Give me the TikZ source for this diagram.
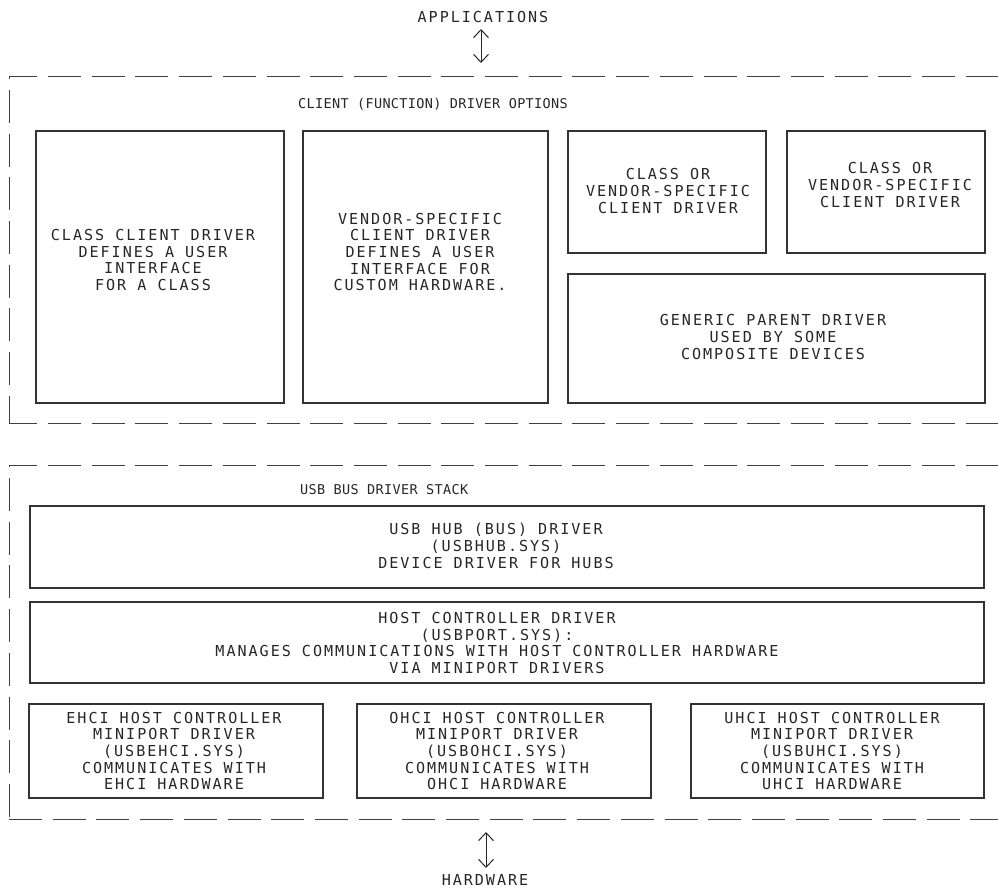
\documentclass[tikz,border=0pt]{standalone}
\usepackage{fontspec}
\newfontfamily\cadfont[LetterSpace=13]{DejaVu Sans Mono}
\newfontfamily\cadtitle[LetterSpace=2.5]{DejaVu Sans Mono}
\usetikzlibrary{arrows.meta}
\begin{document}
\begin{tikzpicture}[x=1pt,y=-1pt,
  box/.style={draw=black!80, line width=1.1pt, inner sep=0pt, outer sep=0pt, rectangle},
  txt/.style={font=\cadfont\fontsize{15.1}{16.7}\selectfont, text=black!85, align=center, inner sep=0pt},
  ttl/.style={font=\cadtitle\fontsize{13.5}{15}\selectfont, text=black!85, inner sep=0pt, anchor=west},
  frm/.style={draw=black!75, line width=1pt, dash pattern=on 33pt off 10.7pt},
  barrow/.style={draw=black!85, line width=1pt, {Straight Barb[length=8pt,width=15pt]}-{Straight Barb[length=8pt,width=15pt]}}
]
\useasboundingbox (0,0) rectangle (998,890);

% top label and arrow
\node[txt] (app) at (483,17) {APPLICATIONS};
\coordinate (a1) at (481,29);
\coordinate (a2) at (481,63);
\draw[barrow] (a1) -- (a2);

% frame 1
\coordinate (f1tl) at (9,77);
\coordinate (f1tr) at (998,77);
\coordinate (f1bl) at (9,423);
\coordinate (f1br) at (998,423);
\draw[frm, dash phase=4.7pt] (f1tl) -- (f1tr);
\draw[frm, dash phase=30.7pt] (f1tl) -- (f1bl);
\draw[frm, dash phase=4.7pt] (f1bl) -- (f1br);
\node[ttl] (t1) at (298,104) {CLIENT (FUNCTION) DRIVER OPTIONS};

\node[box, minimum width=248pt, minimum height=272pt] (bA) at (160,267) {};
\node[txt] (tA) at (153,260) {CLASS CLIENT DRIVER\\DEFINES A USER\\INTERFACE\\FOR A CLASS};

\node[box, minimum width=245pt, minimum height=272pt] (bB) at (425.5,267) {};
\node[txt] (tB) at (420,252) {VENDOR-SPECIFIC\\CLIENT DRIVER\\DEFINES A USER\\INTERFACE FOR\\CUSTOM HARDWARE.};

\node[box, minimum width=198pt, minimum height=122pt] (bC) at (667,192) {};
\node[txt] (tC) at (668,191) {CLASS OR\\VENDOR-SPECIFIC\\CLIENT DRIVER};

\node[box, minimum width=198pt, minimum height=122pt] (bD) at (886,192) {};
\node[txt] (tD) at (890,185) {CLASS OR\\VENDOR-SPECIFIC\\CLIENT DRIVER};

\node[box, minimum width=417pt, minimum height=129pt] (bE) at (776.5,338.5) {};
\node[txt] (tE) at (773,337) {GENERIC PARENT DRIVER\\USED BY SOME\\COMPOSITE DEVICES};

% frame 2
\coordinate (f2tl) at (9,465);
\coordinate (f2tr) at (998,465);
\coordinate (f2bl) at (9,819);
\coordinate (f2br) at (998,819);
\draw[frm, dash phase=4.7pt] (f2tl) -- (f2tr);
\draw[frm, dash phase=30.7pt] (f2tl) -- (f2bl);
\draw[frm, dash phase=0pt] (f2bl) -- (f2br);
\node[ttl] (t2) at (300,490) {USB BUS DRIVER STACK};

\node[box, minimum width=954pt, minimum height=82pt] (bHub) at (507,547) {};
\node[txt] (tHub) at (496,546) {USB HUB (BUS) DRIVER\\(USBHUB.SYS)\\DEVICE DRIVER FOR HUBS};

\node[box, minimum width=954pt, minimum height=81pt] (bHcd) at (507,642.5) {};
\node[txt] (tHcd) at (497,643) {HOST CONTROLLER DRIVER\\(USBPORT.SYS):\\MANAGES COMMUNICATIONS WITH HOST CONTROLLER HARDWARE\\VIA MINIPORT DRIVERS};

\node[box, minimum width=294pt, minimum height=94pt] (bE1) at (176,751) {};
\node[txt] (tE1) at (174,751) {EHCI HOST CONTROLLER\\MINIPORT DRIVER\\(USBEHCI.SYS)\\COMMUNICATES WITH\\EHCI HARDWARE};

\node[box, minimum width=294pt, minimum height=94pt] (bO1) at (504,751) {};
\node[txt] (tO1) at (497,751) {OHCI HOST CONTROLLER\\MINIPORT DRIVER\\(USBOHCI.SYS)\\COMMUNICATES WITH\\OHCI HARDWARE};

\node[box, minimum width=293pt, minimum height=94pt] (bU1) at (837.5,751) {};
\node[txt] (tU1) at (832,751) {UHCI HOST CONTROLLER\\MINIPORT DRIVER\\(USBUHCI.SYS)\\COMMUNICATES WITH\\UHCI HARDWARE};

% bottom arrow and label
\coordinate (h1) at (486,832);
\coordinate (h2) at (486,868);
\draw[barrow] (h1) -- (h2);
\node[txt] (hw) at (485,880) {HARDWARE};
\end{tikzpicture}
\end{document}
